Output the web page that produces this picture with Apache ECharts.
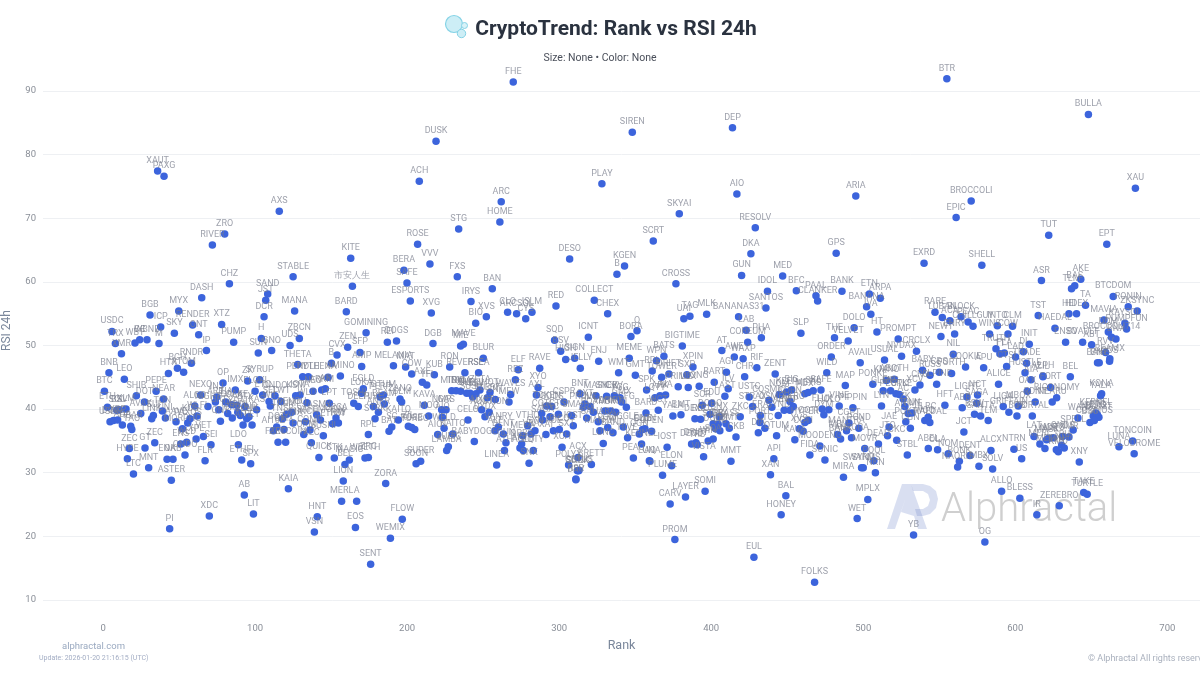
<!DOCTYPE html>
<html><head><meta charset="utf-8">
<style>html,body{margin:0;padding:0;background:#fff}#c{width:1200px;height:675px}</style>
<script src="https://cdn.jsdelivr.net/npm/echarts@6/dist/echarts.min.js"></script>
</head><body><div id="c"></div>
<script>
const xTickLabels=[0,100,200,300,400,500,600,700];
const yTickLabels=[10,20,30,40,50,60,70,80,90];

const namesA=["USDC","TRX","XMR","BNB","LEO","BTC","ETH","SHIB","PEPE","DOT",
"BGB","ICP","WBT","CC","WBNB","M","MYX","RENDER","SKY","ONT",
"XTZ","DASH","PUMP","IP","RNDR","BCH","HTX","ATOM","OP","IMX",
"ZK","SYRUP","NEXO","SUN","H","GNO","DCR","JST","SAND","CHZ",
"MANA","ZBCN","UDS","THETA","PENDLE","PYTH","NEO","ARKM","AR","ENA",
"B","CVX","ZEN","BARD","SFP","GOMINING","AMINO","AMP","EGLD","DEEP"];
const ranksA=[5.9,8.1,12.1,3.9,14,0.9,2.9,21.9,34.9,27.2,
30.9,37.9,21,24.1,28.9,36.8,49.8,58.9,46.9,62.9,
78,64.9,85.9,68,58.1,48.9,43,53,78.9,87,
95.1,103,64.2,102.1,104.1,110.9,105.9,107,108.3,83.1,
126,129.1,123,128,131.3,135,138.1,143.8,146.2,148,
150.2,153.9,160.9,160,169,173,156.1,170.1,171.2,167.9];
const rsiA=[52.2,50.3,48.7,45.7,44.7,42.8,40.3,42.1,42.8,41.1,
54.8,52.9,50.4,50.9,50.9,50.3,55.4,53.2,51.9,51.7,
53.3,57.5,50.5,49.2,47.2,46.4,45.6,45.8,44.1,43,
44.4,44.6,42.2,48.8,51.1,49.2,54.5,57.1,58.1,59.7,
55.4,51.1,50,47,45.1,45.1,42.8,43,43.2,45,
47.2,48.5,49.7,55.3,48.9,52,45.2,46.7,43.2,40.4];

const namesB=["XLM","BSV","SOL","USDE","DOGE","XRP","ADA","HBAR","TAO","AVAX",
"LINK","SUI","TON","UNI","AAVE","NEAR","PAXOS","KCS","ALGO","WLFI",
"NIGHT","INJ","ARB","GRT","QNT","TIA","FIL","CRV","GALA","XDAI",
"CAKE","STX","POL","BONK","JUP","APT","FET","KAS","FLOKI","ETC",
"ONDO","SEI","WIF","TWT","TRUMP","PENGU","KSM","IOTA","WLD","TOSHI",
"LPT","JASMY","SAFEMOON","ORCA","RAY","ETHW","SUSHI","1INCH","COMP","FORM"];
const ranksB=[15.1,10.7,9,4.6,6.8,9.6,12.7,18.2,18.9,24.8,
32,33.1,39,41,48,39.8,55.7,57.2,60.3,61.8,
69,74.8,73.9,76.1,77.2,80.7,82,85,84.6,88.6,
88,93.4,90.3,94.5,96,92.1,98,101,100,105,
113.1,109.2,110,117,120.8,124.1,126.7,129.5,134.1,164.9,
148.8,140.5,143,153.2,154.8,151,144.9,133.1,136.1,132];
const rsiB=[40,39.9,39.8,38,38.2,38.3,37.5,37.3,36.8,39.3,
38.5,39,39.7,38.6,38,41.6,37.8,38.5,40.5,38.9,
40.4,41.9,41.1,39.9,38.1,41.1,39.3,38.6,40.7,39.5,
40.6,40.4,39,38.5,38.8,37.5,37.5,39.9,42.8,42.2,
42.1,41.2,40.5,41.2,39.2,39.5,42.1,42.2,41,40.9,
40.9,39.1,38.3,38.6,37.8,37.7,35.8,38,36.7,36];

const namesC=["XEC","LDO","ETHFI","SPX","FLR","SEI2","VET","XPL","WLD2","ENS",
"MORPHO","ONDO2","ENA2","OKB","ZEC2","GT","MNT","LTC","HYPE","ZEC",
"ASTER","PI","XDC","AB","LIT","KAIA","LION","MERL","A","HNT",
"VSN","EOS","ZORA","FLOW","WEMIX","SENT","XAUT","PAXG","AXS","ACH",
"ZRO","RIVER","STG","ROSE","KITE","VVV","BERA","STABLE","FXS","SAFE",
"市安人生","BAN","ESPORTS","IRYS","XVG","XVS","BIO","CLO","ARCSOL","CYS"];
const ranksC=[137,89,91.2,97.1,67.1,71,66,61.2,55,51.1,
52.2,53.9,42.1,46,34,27.6,30,20,16,17.3,
44.9,43.8,69.9,92.9,98.9,121.9,158,156.9,166.8,140.9,
139,166,185.9,196.8,189,176,35.9,40.1,115.9,208,
80,71.9,233.9,206.9,162.9,215,197.9,125,233,199.9,
164,256,202.1,242,215.9,252.1,245.1,266.1,272,278];
const rsiC=[34.7,34.4,32,31.4,31.9,34.4,35.7,35.3,34.8,34.5,
36.9,32.8,32.1,32.1,34.7,33.9,30.8,29.8,32.2,33.8,
28.8,21.2,23.2,26.5,23.5,27.5,28.7,25.5,25.5,23.1,
20.7,21.4,28.3,22.7,19.7,15.6,77.4,76.6,71.1,75.8,
67.5,65.8,68.3,65.9,63.7,62.8,61.8,60.8,60.8,59.8,
59.3,58.9,57,56.9,55.1,54.5,53.5,55.2,55,54.2];

const namesD=["ISLM","RED","COLLECT","CHEX","REI","DOGS","DGB","MIE","MAVE","BLUR",
"MELANIA","MAT","COW","KUB","RON","REVERSE","RSEA","ELF","RAVE","REZ",
"AXE","YFI","MINA","TRIA","DYM","SLP2","SHELL2","SUSHI2","SSV","ZETA",
"HOT","SLERF","SNT","WAVES","MEW","XYO","AXL","CSPR","GTUM","PERP",
"BEAM","HIVE","ZANO","GLM","ANKR","STRK","KAITO","SC","BAT","ZIL",
"ROSE2","TURBO","MOG","SUPER","SOON","KAVA","NMR","GAS","AIO2","WELD"];
const ranksD=[282.1,297.9,323.1,331.9,187,193,217,235.2,237,250.1,
191,199,203,217.9,228,238,247,273.1,287.2,271.2,
210,212.9,229.3,232.2,235.2,239.2,241.4,243.1,245.3,247.9,
254.5,252.8,258,268.1,267,286.1,285,303.2,184.4,182.2,
185,177.8,195.3,196.4,181.1,178.9,194.2,189.9,188.1,200.8,
203,205,214.2,208.9,205.9,211.3,222.7,225.6,223.2,224.3];
const rsiD=[55.2,56.2,57.1,55,50.5,50.7,50.3,49.9,50.2,48,
46.8,46.6,45.5,45.4,46.6,45.7,45.7,46.2,46.4,44.6,
44.2,43.8,42.9,42.9,42.8,42.5,42.5,41.9,42.4,43,
42.6,41.8,41.5,42.3,41.1,43.4,42.2,41.1,42.2,41.9,
40.8,40.4,41.6,41.1,39.5,38.5,38.3,37.2,36.5,37.3,
37.1,36.8,38.9,31.8,31.4,40.6,39.9,39.9,38.7,37];

const namesE=["AIOT","KAITO2","BABYDOGE","LAMBA","QUBIC","CELO","AIXBT","DYDX","AUCTION","ALT",
"VANRY","DENT2","GUN2","ATH","LINEA","SNX2","AKT","AGLD","ORBS","MEGA",
"VTHO","VRA","SYN","LQTY","COTI","SAGA","KNC","TOKEN","GODS","CTSI",
"XAI","ACE","BICO","SXT","SMA","IOST2","XCH","ACX","POLYX","BRETT",
"CETUS","RSR","SONIC","BNT","MASK","OXT","PROVE","ILV2","ROAM","ZRX",
"SAHARA","VANA","SNEK","CRV2","DRIFT","OMNI","YGG","GMX","CFG","POLY"];
const ranksE=[220.1,230,244.2,226,227.1,240,249,251.2,254,257.8,
260,263.3,265,264,258.9,280.2,274.2,276.4,275.3,276,
279.3,281.5,284.1,283,288.5,289.1,294,291.8,295.1,299.5,
291.3,296.2,300.1,304.9,308.2,309.3,301.9,312.4,306.2,321.2,
313,311,312.8,313.7,324.2,317,315.9,320.3,322.5,318.1,
325.7,330.1,331.2,336.3,333.9,337.2,340,341.1,344.2,331.9];
const rsiE=[36,36.1,34.9,33.5,34.1,38.3,39.9,38.8,39.5,36.6,
37.2,36.1,34.7,33.5,31.2,31.5,33.9,33.5,34.5,35.8,
37.4,36.1,36.6,33.5,39.3,38.3,38.8,40.5,40.4,39.2,
36,36.6,36.8,36.1,39,37.4,34,32.4,31.2,31.3,
30.4,29,30.3,42.4,42.1,40.8,40.3,40.4,39.5,38.6,
38,39.7,42,42.1,39.7,39.5,41.8,41.1,40.3,37.1];

const namesF=["BAND","MANTA","LUNC","GIGGLE","HIVE2","PEAQ","LUNA","SQD","BSV2","HIGH",
"SIGN","JELLY","ICNT","ENJ","MEME","BORA","Q","WMT","GMT","SPK",
"BARD2","OGN","KERNEL","ONE","ELON2","VISTA","IOST","ELON","PLUME","AQ",
"CROSS","UAI","TAG","MLK","BANANAS31","SANTOS","IDOL","BFC","PAAL","CLANKER",
"BANK","ETN","ARPA","BANANA","IVA","DOLO","HT","PROMPT","CRCLX","NVDAX",
"USUAL","AVAIL","ORDER","THE","VELVET","SLP","LAB","PHA","COREUM","AT"];
const ranksF=[335.4,326.8,329,342.2,345,348.8,359.3,297,301,304.3,
310.2,313.9,319.2,326,346.1,347.2,351.2,339.1,350.1,357.5,
357.1,352.7,354.2,354.9,356.4,395,371,374,368,359.7,
376.8,382,386,397,418,436,437,456,468.9,470,
486,504,511.2,502.2,505,494,509,523,535,525.2,
514,498,479,481.1,490.1,459,423,433,424,407];
const rsiF=[36.3,36.6,34.6,37.2,35.5,32.3,31.9,50.8,49.1,47.8,
48,46.4,51.3,47.5,48,51.4,52.3,45.7,45.3,43,
39.4,36.1,34.5,36.8,36.9,32.5,34,31.1,29.6,31.8,
59.7,54.2,54.6,54.9,54.5,55.9,58.5,58.6,57.8,57,
58.5,58.1,57.4,56.1,54.9,52.8,52.1,51,49.1,48.3,
47.7,47.3,48.2,51.2,50.7,51.9,52.4,51.2,50.5,49.2];

const namesG=["AWE","WAXP","BIGTIME","BATS","WPN","XPIN","SXP","RIF","AGI","CHR",
"ZENT","BART","WILD","MAP","PONKE","ABOTH","KMNO","GLMR","SYS","PEOPLE",
"CTK","AC","XCV","RPL","TOWER","DRIFT2","PRIME","LUX","ONG","ILV",
"LAST","USTC","STRAX","COSMIC","NOM","KEEP","BIG","ADX","METIS","SKL",
"SAFE2","OSMO","CORN","AKRO","AEVO","NFP","SYND","ERA","ZKC","WCT",
"YALA","BMT","DEXE","RDO","SCR","EDU","DODO","BNX","IDEX","GRASS"];
const ranksG=[415.2,421,381,368.9,364,388,384,430,410,422,
442.1,402,476,488.2,506.3,520.4,515.3,513.1,518,521.5,
523.7,526.3,534,361.2,367.4,372.2,378.3,384.9,392.1,411.2,
409,425,427.2,438,444.8,449.6,452.9,461.6,463.8,467.1,
472.2,439.9,451.8,454,448,451.8,444.1,432.3,419.1,365.2,
374.8,380.1,389.3,393,394.1,400.3,399.2,405.3,404.6,409.7];
const rsiG=[48.2,47.9,49.9,48.3,47.6,46.6,45.4,46.5,45.8,45.1,
45.5,44.2,45.7,43.7,43.9,44.7,44.5,42.9,42.9,42.4,
42.3,41.6,43,46,45,45.5,43.5,43.4,43.6,43.2,
42,41.9,40.4,41.4,42.3,42.7,43,42.4,42.6,42.9,
43,40.3,41.2,40.4,39.8,39.8,39,39,38.8,39.8,
38.9,39.1,38.5,38.4,40.6,40.9,39.2,38.8,37.6,37.7];

const namesH=["BMT2","STRK2","VIC","DOOD","SCA","WIN","CKB","DRIFT3","DEGO","TRB",
"OPEN","LQTY2","ARK","AIA","PORT3","CTC","DIA","QTUM","KAVA2","XVS2",
"COTI2","HYPER","COTI3","FLUX","HOLO","DYM2","VINE","PIPPIN","CGPT","MANTRA",
"POND","AURORA","MBL","BANK2","MOODENG","FIDA","SONIC2","API3","XAN","MMT",
"SYND2","SWARMS","MOVR","POOL","NKN","DEAD","LYN","JTO","JAE","CKC",
"STBL","POKT","CGN","FUN","ANIME","ZK2","WOO","LRC","HAEDAL2","BABY"];
const ranksH=[411.9,401.3,405.7,402.9,401.3,398,416.3,390,387.1,390.8,
360.8,363,366.3,370,432,435.3,431,443,455,457.9,
460.5,461.6,463.8,473,477.4,474.1,484.2,493.2,490.6,489,
497.1,492.3,483.1,485.1,471.5,464.9,474.8,441.2,439,413,
500,498.9,501,507,508,510,512,516,517,522,
529,528,531,532,529.6,527.4,540.5,542.7,543.8,539];
const rsiH=[37,37.7,36.6,36.9,35.3,35,35.6,34.7,34.5,34.4,
36.5,41.8,42.1,42.2,37.9,37,36.3,35.8,35.2,36.9,
36.5,37.9,38.2,40,39.9,39.1,40.5,40.2,37.8,36.6,
37,35.5,36,35.3,34.2,32.8,32,32.2,29.7,31.8,
30.8,30.8,33.8,31.9,30,34.5,40.5,35.8,37.2,35.1,
32.8,38,37,39.4,39.3,40.4,38.2,38.7,37.9,46.1];

const namesI=["RARE","LUBAN","ACA","BLOCK","PEAC","CHILLGUY","NEWT","ENRY","INTO","CLM",
"WINS","COW2","INIT","TRUTH","FLA","TT","DI","LAD","TRADE","HUSTLE",
"CTSI2","NIL","COOKIE","APU","FORTH","CDS","RUSS","ALPINE","CRO","ALICE",
"NCT","LIGHT","SAGA2","HFT","ABR","LIGA","GRIFFAIN","MBOX","BOB","PORTAL",
"RDNT","OAX","AIA2","ZIL2","ALPH","FORT","BEL","BICONOMY","NEARU","WAN",
"SPELL","BSC","HIPPO","KERNEL2","ETC2","BLAST","COSMOS","KONA","YALA2","COS"];
const ranksI=[547.2,552,557,564.3,569,572.2,551.1,560.1,588.2,598.2,
583.1,595.2,609.2,587.3,592.8,589.9,605.3,600.2,607.4,606.4,
594.3,559.2,567.3,579.2,558.1,550,543.9,548.3,537.3,589,
575.2,568.2,574.6,553.7,565.1,592.1,595.8,602,601.1,611.2,
613.1,607.9,610.3,618.2,618.2,623.2,636.2,627.2,624.3,641.2,
638.1,649.1,651.3,653,654,655,652,656.8,656.1,662];
const rsiI=[55.2,54.4,53.9,54.5,53.7,53,51.4,51.8,53.1,53,
51.8,51.8,50.2,49.5,48.8,48.7,49,48.2,47.2,45.7,
46.7,48.6,46.6,46.5,45.6,45.8,45.3,43.9,43.8,43.9,
42.2,41.9,40.9,40.6,40.2,40.4,39.5,40.5,38.9,38.9,
41.1,42.8,44.6,45.1,45.2,43.4,45.1,41.8,41.1,38.6,
36.7,37.9,38.9,39.4,39.1,38.7,38.2,42.4,42.1,47.5];

const namesJ=["JCT","ABEL","OLA","NOM","BONK2","NAORIS","DENT","ALCX","MBX","SOLV",
"NTRN","US","LAT","MERL2","MET","MASK2","AUTO","ONDS","XMR2","TRU",
"XPR","KMD","NOR","MIN","XNY","LUNA2","TONCOIN","VELODROME","BSW","SANTA",
"TLM","GPS","TST","HAEDAL","HEI","HDEX","TA","ENSO","BVAULT","ABT",
"MAVIA","BTCDOM","RONIN","ZKSYNC","KAYSOL","PUMPFUN","DDM","BROCCOLI714","BNX2","RVV",
"BEAMX","BAKE","BNT2","BTR","BULLA","ARIA","XAU","BROCCOLI","EPIC","TUT"];
const ranksJ=[566.2,542.8,548.9,555.9,563.2,562.1,570.2,584,576.1,585.1,
599.1,604.2,612.3,616.2,619.5,620.6,625,631.1,635.3,630.5,
632.2,628.3,622,627,642.1,668.2,677.2,678.2,573.2,577.2,
582.2,482.2,615.1,626.1,635.3,640.3,646.2,633.1,644.3,650.2,
658.3,664.4,674.3,680.2,672.1,673.2,661.2,663.3,666.2,659.4,
662.2,654.1,655.2,555,648.1,495.1,679,571,561.1,622];
const rsiJ=[36.4,33.8,33.6,33,31.8,30.9,32.7,33.5,31,30.6,
33.7,32.2,35.7,34.5,33.8,35.2,35.5,35.7,35.6,34.3,
33.9,33.3,35.4,33.6,31.7,34.1,35,33,39.2,38.9,
38.2,64.5,54.7,52.7,55,55,56.3,50.5,50.5,50.1,
54,57.7,56.1,55.4,53.5,52.6,52.1,51.3,51,48.9,
47.9,47.3,47.3,91.9,86.3,73.5,74.7,72.7,70.1,67.3];

const namesK=["EPT","EXRD","SHELL","ASR","AKE","BAS","TLM2","FHE","SIREN","DEP",
"PLAY","ARC","HOME","AIO","SKYAI","RESOLV","SCRT","DESO","DKA","KGEN",
"B2","GUN","MED","DUSK","CARV","LAYER","SOMI","PROM","BAL","HONEY",
"EUL","FOLKS","WET","MPLX","MIRA","OG","YB","ALLO","BLESS","IR",
"ZEREBRO","TAKE","TURTLE","SNEK2","DRV","LOKA","RPL2","WBETH","ZRC","MAGIC",
"BEL2","CTK2","QUICK","ZEC3","FARTCOIN","AI16Z","DOT2","GMX2","UMA","TNSR"];
const ranksK=[660.2,540,578,617.2,643.1,639.1,637,269.8,348.1,414,
328.1,261.9,261,416.9,379,429,361.9,306.9,426.1,343,
338,420,447,219,373,383.1,396,376.1,449.1,446,
428.1,468,496,503,487,580,533.1,591,603,614.2,
628.9,645,647.3,312,311,170,174.5,172.3,174.5,162,
159.1,152.1,142,115.1,120.1,112,114.2,119,125,118];
const rsiK=[65.9,62.9,62.6,60.2,60.4,59.4,58.9,91.4,83.5,84.2,
75.4,72.6,69.4,73.8,70.7,68.5,66.4,63.6,64.4,62.5,
61.2,61,60.9,82.1,25.1,26.2,27.1,19.5,26.4,23.4,
16.7,12.8,22.8,25.8,29.3,19.1,20.2,27.1,26,23.4,
24.8,26.9,26.6,30.3,28.9,42.5,36,32.3,32.4,32,
31.3,32.3,32.4,34.8,34.8,36.6,37.2,36.8,37.8,38.5];

const symbols=[].concat(namesA,namesB,namesC,namesD,namesE,namesF,namesG,namesH,namesI,namesJ,namesK);
const ranks=[].concat(ranksA,ranksB,ranksC,ranksD,ranksE,ranksF,ranksG,ranksH,ranksI,ranksJ,ranksK);
const rsi24h=[].concat(rsiA,rsiB,rsiC,rsiD,rsiE,rsiF,rsiG,rsiH,rsiI,rsiJ,rsiK);
const labels=symbols.map(s=>s.replace(/(?<=[A-Z])[23]$/,''));
if(symbols.length!==ranks.length||ranks.length!==rsi24h.length)console.error('length mismatch');

const chart=echarts.init(document.getElementById('c'),null,{renderer:'canvas'});
const ff='Roboto, sans-serif';
chart.setOption({
 animation:false,backgroundColor:'#fff',
 title:[
  {text:'CryptoTrend: Rank vs RSI 24h',left:611,top:14,textAlign:'center',textStyle:{fontFamily:ff,fontSize:21,fontWeight:700,color:'#2a323f'}},
  {text:'Size: None • Color: None',left:595,top:48,textAlign:'center',textStyle:{fontFamily:ff,fontSize:10.5,fontWeight:400,color:'#4a4f5a'}}
 ],
 grid:{left:43,right:0,top:61,bottom:75,outerBoundsMode:'none'},
 xAxis:{type:'value',min:-39.5,max:721.5,name:'Rank',nameLocation:'middle',nameGap:36,
  nameTextStyle:{fontFamily:ff,fontSize:12.5,color:'#7a879b'},
  axisLine:{show:false},axisTick:{show:false},splitLine:{show:false},
  axisLabel:{customValues:xTickLabels,fontFamily:ff,fontSize:9.5,color:'#8a8f98',margin:24}},
 yAxis:{type:'value',min:10,max:94.7,interval:10,name:'RSI 24h',nameLocation:'middle',nameGap:30,
  nameTextStyle:{fontFamily:ff,fontSize:12,color:'#7a879b'},
  axisLine:{show:false},axisTick:{show:false},
  splitLine:{lineStyle:{color:'#eef0f3',width:1},showMaxLine:false},
  axisLabel:{showMaxLabel:false,fontFamily:ff,fontSize:9.5,color:'#8a8f98',margin:7}},
 graphic:[
  {type:'circle',z:1,shape:{cx:454,cy:24,r:8.5},style:{fill:'#cdeef6',stroke:'#86d3e6',lineWidth:1.2}},
  {type:'circle',z:1,shape:{cx:464.5,cy:25.5,r:3},style:{fill:'#d8f2f8',stroke:'#86d3e6',lineWidth:1}},
  {type:'circle',z:1,shape:{cx:461.5,cy:33.5,r:4.2},style:{fill:'#cdeef6',stroke:'#86d3e6',lineWidth:1}},
  {type:'polygon',z:0,shape:{points:[[887,529],[902,484],[911,484],[927,529],[918,529],[914,516],[901,512],[906,497],[895,529]]},style:{fill:'rgba(110,130,200,0.26)'}},
  {type:'polygon',z:0,shape:{points:[[911,484],[923,484],[930,486],[936,491],[938,499],[936,508],[930,514],[923,516],[917,516],[915,509],[923,509],[928,506],[930,500],[928,494],[923,491],[913,491]]},style:{fill:'rgba(110,130,200,0.26)'}},
  {type:'text',z:0,left:941,top:491,style:{text:'Alphractal',fontFamily:ff,fontSize:40,fontWeight:300,fill:'rgba(140,140,140,0.42)'}},
  {type:'text',left:62,top:642,style:{text:'alphractal.com',fontFamily:ff,fontSize:9.5,fill:'#9aa9c0'}},
  {type:'text',left:39,top:655,style:{text:'Update: 2026-01-20 21:16:15 (UTC)',fontFamily:ff,fontSize:7,fill:'#a3adc4'}},
  {type:'text',left:1088,top:654,style:{text:'© Alphractal All rights reserved',fontFamily:ff,fontSize:9,fill:'#a9b0bd'}}
 ],
 series:[{type:'scatter',symbolSize:7.5,z:3,
  data:ranks.map((r,i)=>({value:[r,rsi24h[i]],name:labels[i]})),
  itemStyle:{color:'#3c64dc',opacity:1},
  label:{show:true,position:'top',distance:2,formatter:p=>p.name,fontFamily:ff,fontSize:9,color:'rgba(120,125,140,0.72)'},
  labelLayout:{hideOverlap:false}
 }]
});
</script></body></html>
